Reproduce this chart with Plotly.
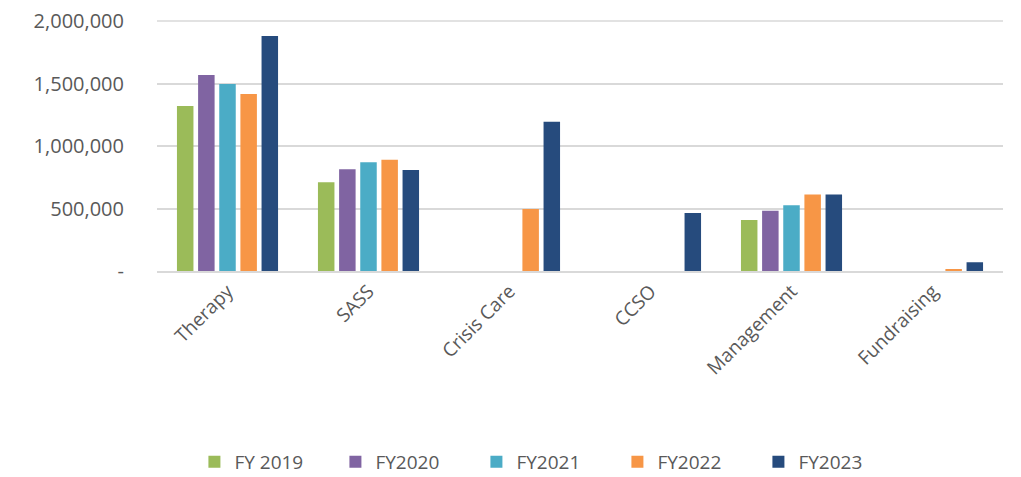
import plotly.graph_objects as go

categories = ["Therapy", "SASS", "Crisis Care", "CCSO", "Management", "Fundraising"]
fy2019 = [1320000, 710000, 0, 0, 408000, 0]
fy2020 = [1568000, 815000, 0, 0, 482000, 0]
fy2021 = [1496000, 870000, 0, 0, 526000, 0]
fy2022 = [1416000, 890000, 496000, 0, 613000, 16000]
fy2023 = [1880000, 808000, 1195000, 464000, 613000, 70000]

series_names = ["FY 2019", "FY2020", "FY2021", "FY2022", "FY2023"]
series_values = [fy2019, fy2020, fy2021, fy2022, fy2023]
colors = ["#9BBB59", "#8064A2", "#4BACC6", "#F79646", "#264B7D"]

y_tickvals = [0, 500000, 1000000, 1500000, 2000000]
y_ticktext = ["-", "500,000", "1,000,000", "1,500,000", "2,000,000"]

fig = go.Figure()
for name, vals, c in zip(series_names, series_values, colors):
    fig.add_trace(go.Bar(x=categories, y=vals, name=name, marker_color=c,
                         marker_line_width=0))

# top gridline (plotly omits the grid line at the very edge of the range)
fig.add_hline(y=y_tickvals[-1], line_color="#D9D9D9", line_width=1.5, layer="below")

font_family = "'Open Sans', Lato, sans-serif"
fig.update_layout(
    width=1013, height=469,
    barmode="group", bargap=0.25, bargroupgap=0.22,
    plot_bgcolor="white", paper_bgcolor="white",
    margin=dict(l=149, r=18, t=12, b=206),
    font=dict(family=font_family, size=19, color="#595959"),
    legend=dict(orientation="h", xref="container", x=0.532, xanchor="center",
                yref="container", y=0.032, yanchor="middle",
                font=dict(size=19, color="#595959"), itemwidth=30,
                entrywidth=96, entrywidthmode="pixels",
                traceorder="normal"),
    showlegend=True,
)
fig.update_xaxes(tickangle=-45, showgrid=False, showline=True, linecolor="#D9D9D9",
                 linewidth=1.5, tickfont=dict(size=19, color="#595959"), ticks="",
                 automargin=False)
fig.update_yaxes(range=[0, 2008000], tickvals=y_tickvals, ticktext=y_ticktext,
                 showgrid=True, gridcolor="#D9D9D9", gridwidth=1.5, zeroline=False,
                 tickfont=dict(size=20, color="#595959"), ticks="", ticklabelstandoff=32,
                 ticklabeloverflow="allow", automargin=False)

fig.write_html("out.html")
